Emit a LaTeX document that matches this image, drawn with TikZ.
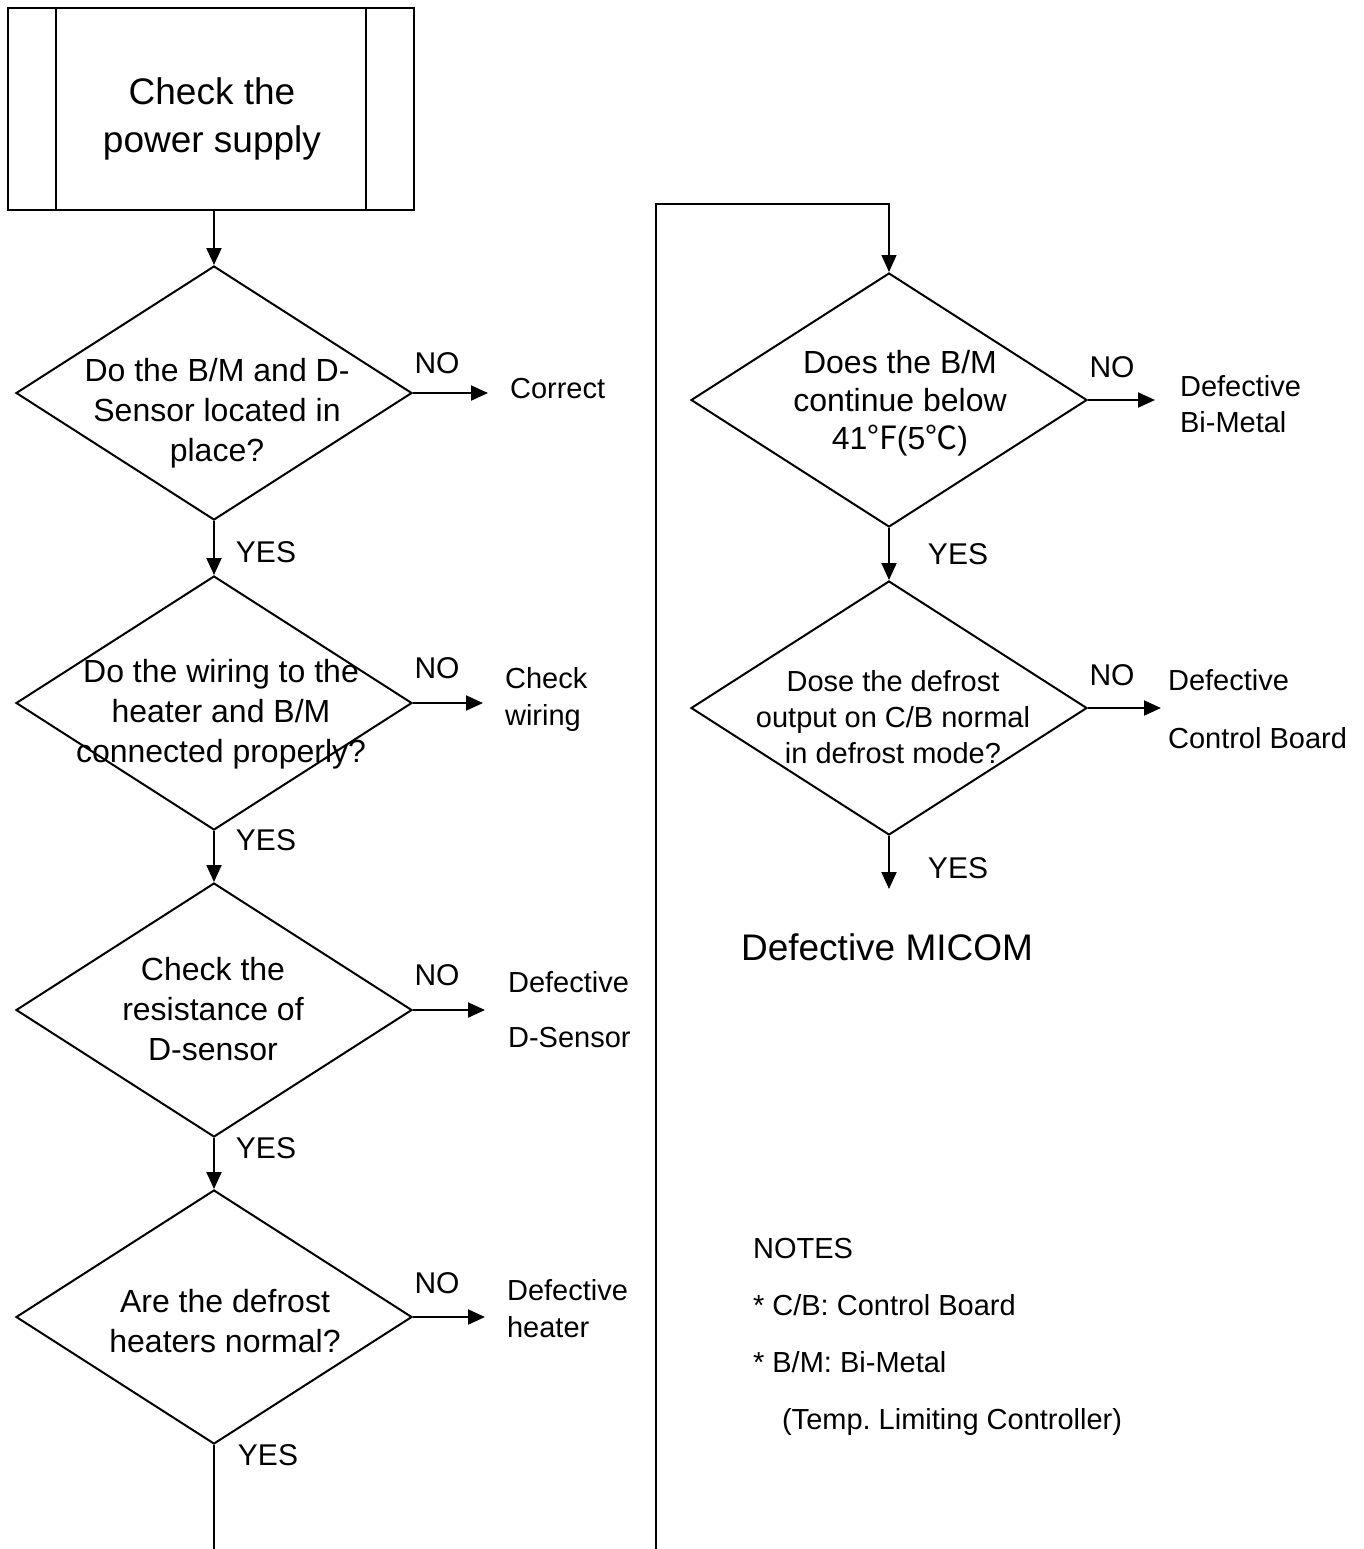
\documentclass[tikz,border=0pt]{standalone}
\usepackage{fontspec}
\setmainfont{Liberation Sans}
\newfontfamily\cjkfont{Noto Sans CJK SC}
\usetikzlibrary{arrows.meta,shapes.geometric,calc}
\frenchspacing

\begin{document}
\begin{tikzpicture}[x=0.5pt,y=-0.5pt,
		decision/.style={draw, line width=1pt, diamond, inner sep=0pt, minimum width=198pt, minimum height=127pt},
		dectext/.style={align=center, font=\fontsize{16}{20}\selectfont},
		lbl/.style={font=\fontsize{15}{18}\selectfont},
		result/.style={anchor=west, align=left, font=\fontsize{14.5}{18.5}\selectfont},
		arr/.style={-{Triangle[length=8.5pt,width=7.5pt]}, line width=1pt},
		thinarr/.style={-{Triangle[length=8.5pt,width=7.5pt]}, line width=0.6pt}]
	
	\useasboundingbox (0,0) rectangle (1364,1549);
	
	% Draw the start box.
	\node[draw, line width=1pt, minimum width=203pt, minimum height=101pt, inner sep=0pt] (power) at (211,109) {};
	\draw[line width=1pt] ($(power.north west)+(49,0)$) -- ($(power.south west)+(49,0)$);
	\draw[line width=1pt] ($(power.north east)+(-49,0)$) -- ($(power.south east)+(-49,0)$);
	\node[align=center, font=\fontsize{18.5}{24}\selectfont] (powertext) at (212,119) {Check the\\power supply};
	
	% Draw the decisions on the left.
	\node[decision] (d1) at (214,393) {};
	\node[decision] (d2) at (214,703) {};
	\node[decision] (d3) at (214,1010) {};
	\node[decision] (d4) at (214,1317) {};
	\node[dectext] (t1) at (217,413) {Do the B/M and D-\\Sensor located in\\place?};
	\node[dectext] (t2) at (221,714) {Do the wiring to the\\heater and B/M\\connected properly?};
	\node[dectext] (t3) at (213,1009) {Check the\\resistance of\\D-sensor};
	\node[dectext] (t4) at (225,1321) {Are the defrost\\heaters normal?};
	
	% Draw the decisions on the right.
	\node[decision] (d5) at (889,400) {};
	\node[decision] (d6) at (889,708) {};
	\node[dectext, font=\fontsize{16}{19}\selectfont] (t5) at (900,403) {Does the B/M\\continue below\\41{\cjkfont °F}(5{\cjkfont ℃})};
	\node[dectext, font=\fontsize{14.5}{18}\selectfont] (t6) at (893,717) {Dose the defrost\\output on C/B normal\\in defrost mode?};
	
	% Draw the YES connectors.
	\draw[arr] (d1.north |- power.south) -- (d1.north);
	\draw[arr] (d1.south) -- (d2.north);
	\draw[arr] (d2.south) -- (d3.north);
	\draw[arr] (d3.south) -- (d4.north);
	\draw[arr] (d5.south) -- (d6.north);
	\coordinate (yes6) at ($(d6.south)+(0,53)$);
	\draw[arr] (d6.south) -- (yes6);
	
	% Draw the loop from the bottom to the right column.
	\coordinate (leftbot) at (214,1549);
	\coordinate (loopbot) at (656,1549);
	\coordinate (looptop) at (656,204);
	\draw[line width=0.6pt] (d4.south) -- (leftbot);
	\draw[thinarr] (loopbot) -- (looptop) -| (d5.north);
	
	% Draw the NO connectors.
	\foreach \d/\len in {d1/75, d2/70, d3/72, d4/72, d5/67, d6/73}{
		\coordinate (\d no) at ($(\d.east)+(\len,0)$);
		\draw[arr] (\d.east) -- (\d no);
	}
	
	% Draw the YES and NO labels.
	\foreach \x/\y/\name in {266/552/y1, 266/840/y2, 266/1148/y3, 268/1455/y4, 958/554/y5, 958/868/y6}{
		\node[lbl] (\name) at (\x,\y) {YES};
	}
	\foreach \x/\y/\name in {437/363/n1, 437/668/n2, 437/975/n3, 437/1283/n4, 1112/367/n5, 1112/675/n6}{
		\node[lbl] (\name) at (\x,\y) {NO};
	}
	
	% Draw the results.
	\node[result] (correct) at (503,389) {Correct};
	\node[result] (wiring) at (498,699) {Check\\wiring};
	\node[result, font=\fontsize{14.5}{27.5}\selectfont] (dsensor) at (501,1010) {Defective\\D-Sensor};
	\node[result] (heater) at (500,1309) {Defective\\heater};
	\node[result, font=\fontsize{14.5}{18}\selectfont] (bimetal) at (1173,404) {Defective\\Bi-Metal};
	\node[result, font=\fontsize{14.5}{29}\selectfont] (cboard) at (1161,709) {Defective\\Control Board};
	\node[anchor=west, font=\fontsize{18.5}{22}\selectfont] (micom) at (734,947) {Defective MICOM};
	
	% Draw the notes.
	\node[anchor=west, align=left, font=\fontsize{14.5}{28.5}\selectfont] (notes) at (746,1337) {NOTES\\* C/B: Control Board\\* B/M: Bi-Metal\\\hspace*{14.5pt}(Temp. Limiting Controller)};
	
\end{tikzpicture}
\end{document}
